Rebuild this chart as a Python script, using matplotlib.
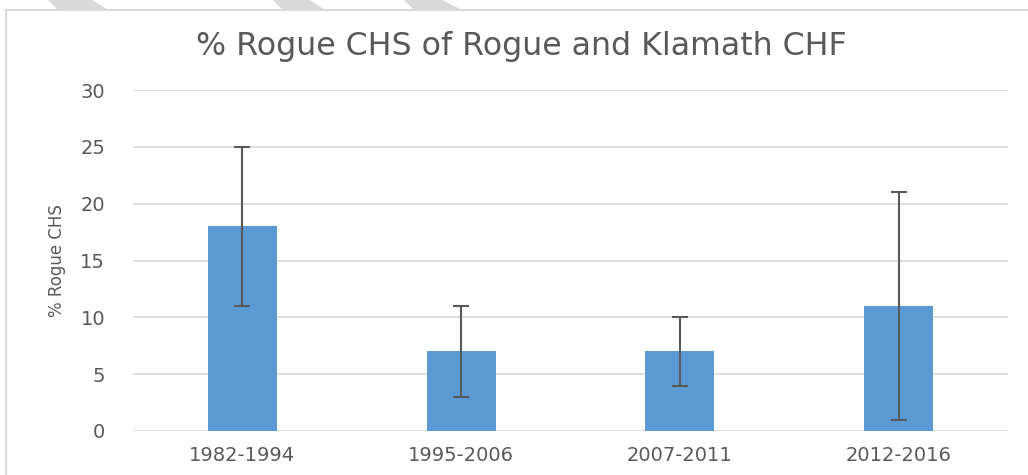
import matplotlib.pyplot as plt
from matplotlib.patches import Polygon, Rectangle

periods = ["1982-1994", "1995-2006", "2007-2011", "2012-2016"]
pct_rogue = [18, 7, 7, 11]
err_high = [25, 11, 10, 21]
err_low = [11, 3, 4, 1]

W, H = 1028, 475
fig = plt.figure(figsize=(W / 100, H / 100), dpi=100)

# slide decoration stripes along the top edge and the chart frame
for top_l, top_r, bot_l, bot_r in [(48, 92, 58, 108), (273, 310, 283, 325), (404, 442, 414, 462)]:
    pts = [(top_l / W, 1), (top_r / W, 1), (bot_r / W, 1 - 10 / H), (bot_l / W, 1 - 10 / H)]
    fig.patches.append(Polygon(pts, closed=True, transform=fig.transFigure,
                               facecolor="#d9d9d9", edgecolor="none"))
fig.patches.append(Rectangle((6 / W, -0.1), 1.2, 1 - 10 / H + 0.1, transform=fig.transFigure,
                             facecolor="none", edgecolor="#d9d9d9", linewidth=1.5))

ax = fig.add_axes([133 / W, 1 - 431 / H, 875 / W, 341 / H])
x = range(len(periods))
lower = [v - lo for v, lo in zip(pct_rogue, err_low)]
upper = [hi - v for v, hi in zip(pct_rogue, err_high)]
ax.bar(x, pct_rogue, width=0.315, color="#5b9bd5", zorder=2)
ax.errorbar(x, pct_rogue, yerr=[lower, upper], fmt="none", ecolor="#595959",
            elinewidth=1.5, capsize=5.5, capthick=1.5, zorder=3)

ax.set_xlim(-0.5, 3.5)
ax.set_ylim(0, 30)
ax.set_yticks(range(0, 31, 5))
ax.set_xticks(list(x))
ax.set_xticklabels(periods)
for s in ax.spines.values():
    s.set_visible(False)
ax.grid(axis="y", color="#d4d4d4", linewidth=1.1, zorder=0)
ax.tick_params(length=0, colors="#595959", labelsize=14)
ax.tick_params(axis="y", pad=20)
ax.tick_params(axis="x", pad=11)
for lab in ax.get_xticklabels() + ax.get_yticklabels():
    lab.set_family("DejaVu Sans")

ax.set_ylabel("% Rogue CHS", color="#595959", fontsize=12, family="DejaVu Sans", labelpad=10)
fig.text(521 / W, 1 - 46 / H, "% Rogue CHS of Rogue and Klamath CHF", ha="center", va="center",
         fontsize=22.8, color="#595959", family="DejaVu Sans")

fig.savefig("out.png", dpi=100)
